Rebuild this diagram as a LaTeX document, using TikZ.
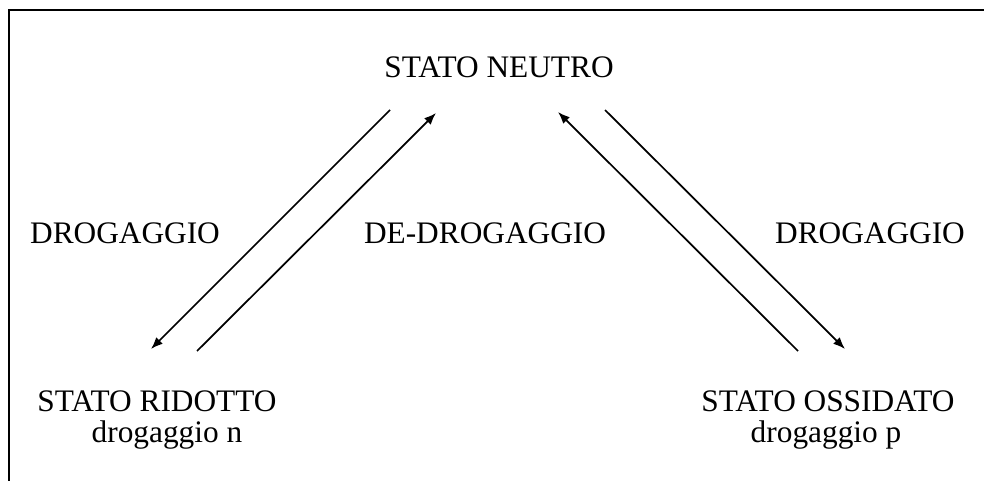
\documentclass[tikz,border=0pt]{standalone}
\usepackage{fontspec}
\setmainfont{Liberation Serif}
\usetikzlibrary{arrows.meta}

\begin{document}
\begin{tikzpicture}[
    x=0.75pt, y=-0.75pt,
    every node/.style={
        font=\fontsize{23.5}{28}\selectfont,
        inner sep=0pt,
        anchor=base
    },
    framelines/.style={line width=1.6pt},
    reaction/.style={line width=1.3pt, -{Latex[length=9pt,width=7pt]}}
]
\useasboundingbox (0,0) rectangle (984,481);
\draw[framelines] (9,481) -- (9,10) -- (984,10);

% states
\node (neutro)    at (499,78)  {STATO NEUTRO};
\node (ridotto)   at (157,411) {STATO RIDOTTO};
\node (ridottoN)  at (167,442) {drogaggio n};
\node (ossidato)  at (828,411) {STATO OSSIDATO};
\node (ossidatoP) at (826,442) {drogaggio p};

% labels
\node (drogL)  at (125,243) {DROGAGGIO};
\node (dedrog) at (485,243) {DE-DROGAGGIO};
\node (drogR)  at (870,243) {DROGAGGIO};

% arrow ends
\coordinate (rA) at (390,110);
\coordinate (rB) at (151,349);
\coordinate (rC) at (197,351);
\coordinate (rD) at (436,113);
\coordinate (oA) at (605,110);
\coordinate (oB) at (845,349);
\coordinate (oC) at (798,351);
\coordinate (oD) at (558,112);

\draw[reaction] (rA) -- (rB);
\draw[reaction] (rC) -- (rD);
\draw[reaction] (oA) -- (oB);
\draw[reaction] (oC) -- (oD);
\end{tikzpicture}
\end{document}
